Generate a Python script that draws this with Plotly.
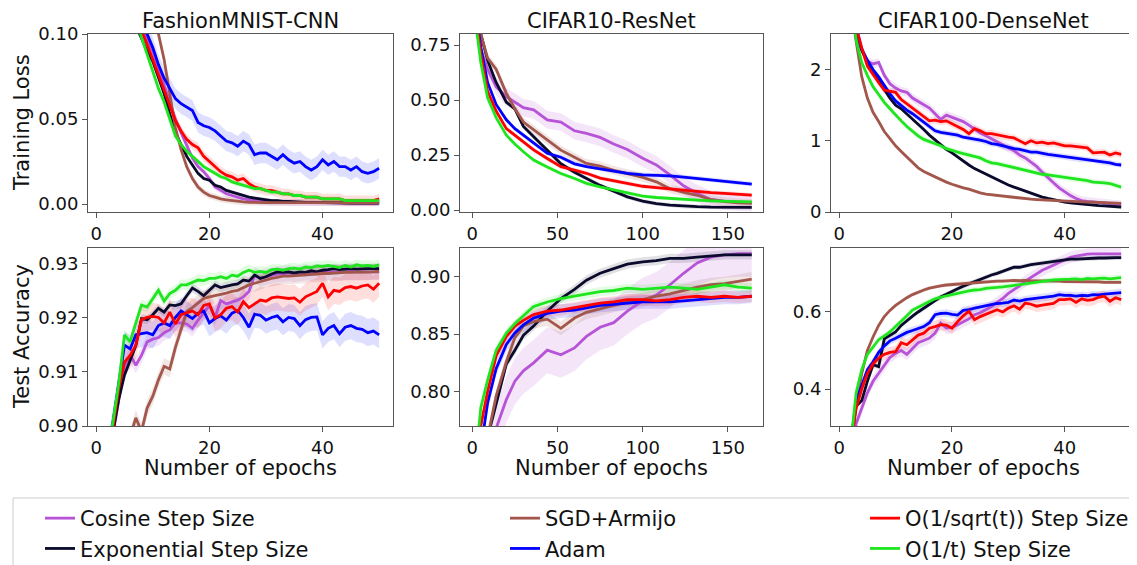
import plotly.graph_objects as go

# ---- series names / colours ----
names = ['Cosine Step Size', 'Exponential Step Size', 'SGD+Armijo', 'Adam',
         'O(1/sqrt(t)) Step Size', 'O(1/t) Step Size']
colors = ['#b653d6', '#0a0a2c', '#a3574c', '#0000ff', '#ff0000', '#1ee61e']
band_colors = ['rgba(182,83,214,0.15)', 'rgba(10,10,44,0.12)', 'rgba(163,87,76,0.15)',
               'rgba(0,0,255,0.13)', 'rgba(255,0,0,0.13)', 'rgba(30,230,30,0.13)']

titles = ['FashionMNIST-CNN', 'CIFAR10-ResNet', 'CIFAR100-DenseNet']

epochs50 = list(range(1, 51))
epochs_c10 = [2, 5, 9, 14, 20, 25, 30, 36, 44, 52, 60, 67, 75, 83, 91, 100, 108, 116, 124, 132, 140, 148, 156, 164]

# ---- FashionMNIST training loss ----
fm_loss_cos = [0.45, 0.32, 0.25, 0.19, 0.16, 0.135, 0.118, 0.105, 0.098, 0.090, 0.080, 0.070, 0.060, 0.050, 0.042,
               0.034, 0.027, 0.022, 0.019, 0.015, 0.010, 0.008, 0.006, 0.005, 0.004, 0.003, 0.0025, 0.002, 0.0015, 0.0012,
               0.001, 0.001, 0.001, 0.001, 0.001, 0.0008, 0.0008, 0.0008, 0.0008, 0.0008, 0.0006, 0.0006, 0.0006, 0.0006,
               0.0006, 0.0006, 0.0006, 0.0006, 0.0006, 0.0006]
fm_loss_exp = [0.40, 0.29, 0.22, 0.17, 0.14, 0.12, 0.105, 0.097, 0.090, 0.084, 0.075, 0.065, 0.053, 0.042, 0.035,
               0.028, 0.023, 0.018, 0.015, 0.014, 0.011, 0.010, 0.008, 0.007, 0.006, 0.005, 0.004, 0.0035, 0.003, 0.0025,
               0.002, 0.002, 0.0015, 0.0015, 0.0012, 0.0012, 0.001, 0.001, 0.001, 0.0008, 0.0008, 0.0007, 0.0007, 0.0006,
               0.0006, 0.0005, 0.0005, 0.0005, 0.0005, 0.0005]
fm_loss_arm = [0.8, 0.6, 0.45, 0.35, 0.28, 0.22, 0.18, 0.15, 0.13, 0.115, 0.102, 0.085, 0.065, 0.045, 0.032,
               0.022, 0.015, 0.010, 0.007, 0.005, 0.004, 0.003, 0.0025, 0.002, 0.0015, 0.0012, 0.001, 0.0008, 0.0008, 0.0008,
               0.0008, 0.0008, 0.0008, 0.0008, 0.0008, 0.0008, 0.0008, 0.0008, 0.0008, 0.0008, 0.0008, 0.0008, 0.0008,
               0.0008, 0.0008, 0.0008, 0.0008, 0.0008, 0.0008, 0.0008]
fm_loss_adam = [0.40, 0.30, 0.24, 0.19, 0.16, 0.14, 0.12, 0.105, 0.100, 0.092, 0.082, 0.074, 0.068, 0.062, 0.059,
                0.057, 0.055, 0.048, 0.046, 0.045, 0.043, 0.040, 0.037, 0.036, 0.034, 0.037, 0.035, 0.029, 0.030, 0.030,
                0.028, 0.026, 0.029, 0.026, 0.024, 0.025, 0.022, 0.020, 0.022, 0.026, 0.023, 0.025, 0.022, 0.022, 0.020,
                0.022, 0.019, 0.018, 0.019, 0.021]
fm_loss_sqrt = [0.45, 0.33, 0.25, 0.20, 0.16, 0.13, 0.115, 0.102, 0.094, 0.085, 0.075, 0.066, 0.058, 0.049, 0.043,
                0.038, 0.035, 0.033, 0.028, 0.025, 0.022, 0.019, 0.017, 0.016, 0.014, 0.015, 0.012, 0.010, 0.009, 0.008,
                0.008, 0.007, 0.006, 0.006, 0.005, 0.005, 0.004, 0.004, 0.004, 0.003, 0.003, 0.003, 0.003, 0.002, 0.002,
                0.002, 0.002, 0.002, 0.002, 0.003]
fm_loss_inv = [0.42, 0.30, 0.23, 0.18, 0.15, 0.125, 0.11, 0.098, 0.088, 0.078, 0.068, 0.060, 0.050, 0.040, 0.035,
               0.031, 0.028, 0.025, 0.022, 0.020, 0.018, 0.016, 0.015, 0.013, 0.012, 0.011, 0.010, 0.009, 0.009, 0.008,
               0.007, 0.007, 0.006, 0.006, 0.005, 0.005, 0.004, 0.004, 0.004, 0.003, 0.003, 0.003, 0.003, 0.002, 0.002,
               0.002, 0.002, 0.002, 0.002, 0.002]

# ---- CIFAR10 training loss ----
c10_loss_cos = [0.93, 0.73, 0.64, 0.56, 0.515, 0.49, 0.465, 0.455, 0.41, 0.40, 0.36, 0.348, 0.33, 0.30, 0.275, 0.235,
                0.205, 0.16, 0.11, 0.075, 0.048, 0.04, 0.035, 0.033]
c10_loss_exp = [0.95, 0.80, 0.68, 0.58, 0.49, 0.46, 0.38, 0.333, 0.272, 0.21, 0.172, 0.144, 0.112, 0.086, 0.06, 0.04,
                0.029, 0.022, 0.017, 0.015, 0.013, 0.012, 0.012, 0.012]
c10_loss_arm = [0.95, 0.80, 0.69, 0.64, 0.53, 0.46, 0.40, 0.364, 0.317, 0.272, 0.24, 0.212, 0.20, 0.18, 0.165, 0.148,
                0.128, 0.097, 0.08, 0.067, 0.047, 0.038, 0.033, 0.03]
c10_loss_adam = [0.90, 0.74, 0.58, 0.48, 0.41, 0.37, 0.34, 0.303, 0.258, 0.24, 0.21, 0.197, 0.186, 0.178, 0.167, 0.16,
                 0.158, 0.155, 0.15, 0.144, 0.138, 0.13, 0.125, 0.118]
c10_loss_sqrt = [0.88, 0.71, 0.54, 0.45, 0.37, 0.34, 0.31, 0.273, 0.234, 0.197, 0.181, 0.167, 0.145, 0.133, 0.121, 0.108,
                 0.102, 0.096, 0.088, 0.083, 0.079, 0.076, 0.072, 0.068]
c10_loss_inv = [0.85, 0.67, 0.51, 0.42, 0.34, 0.30, 0.265, 0.227, 0.196, 0.166, 0.143, 0.121, 0.105, 0.092, 0.076, 0.063,
                0.057, 0.052, 0.048, 0.045, 0.042, 0.039, 0.038, 0.037]

# ---- CIFAR100 training loss ----
c100_loss_cos = [4.2, 3.3, 2.62, 2.3, 2.12, 2.08, 2.1, 1.92, 1.8, 1.74, 1.7, 1.68, 1.6, 1.55, 1.5, 1.46, 1.38, 1.3, 1.36,
                 1.33, 1.3, 1.27, 1.22, 1.16, 1.11, 1.07, 1.03, 0.99, 0.94, 0.9, 0.86, 0.8, 0.76, 0.7, 0.64, 0.56, 0.48,
                 0.41, 0.34, 0.28, 0.23, 0.19, 0.16, 0.15, 0.14, 0.13, 0.12, 0.12, 0.11, 0.11]
c100_loss_exp = [4.0, 3.2, 2.45, 2.27, 2.12, 1.95, 1.88, 1.72, 1.6, 1.5, 1.45, 1.38, 1.3, 1.24, 1.16, 1.08, 1.01, 0.94,
                 0.88, 0.83, 0.77, 0.71, 0.66, 0.61, 0.57, 0.53, 0.49, 0.45, 0.42, 0.38, 0.35, 0.32, 0.29, 0.26, 0.24,
                 0.21, 0.19, 0.17, 0.15, 0.14, 0.13, 0.12, 0.11, 0.10, 0.095, 0.09, 0.085, 0.08, 0.075, 0.07]
c100_loss_arm = [3.9, 3.0, 2.4, 1.9, 1.6, 1.4, 1.27, 1.13, 1.03, 0.93, 0.85, 0.77, 0.69, 0.62, 0.57, 0.53, 0.49, 0.45,
                 0.42, 0.39, 0.36, 0.34, 0.32, 0.29, 0.27, 0.25, 0.24, 0.23, 0.22, 0.21, 0.20, 0.195, 0.19, 0.18, 0.175,
                 0.17, 0.165, 0.16, 0.16, 0.155, 0.15, 0.15, 0.145, 0.14, 0.14, 0.135, 0.13, 0.13, 0.125, 0.12]
c100_loss_adam = [4.1, 3.2, 2.55, 2.28, 2.13, 2.0, 1.9, 1.78, 1.66, 1.56, 1.49, 1.43, 1.38, 1.32, 1.26, 1.2, 1.14, 1.12,
                  1.11, 1.1, 1.08, 1.05, 1.04, 1.02, 1.01, 0.99, 0.96, 0.95, 0.93, 0.9, 0.89, 0.88, 0.86, 0.84, 0.84,
                  0.82, 0.81, 0.80, 0.79, 0.77, 0.76, 0.75, 0.74, 0.73, 0.73, 0.71, 0.70, 0.69, 0.67, 0.66]
c100_loss_sqrt = [4.3, 3.3, 2.6, 2.3, 2.05, 1.93, 1.82, 1.71, 1.7, 1.68, 1.58, 1.52, 1.45, 1.4, 1.33, 1.28, 1.29, 1.27,
                  1.28, 1.24, 1.2, 1.16, 1.1, 1.17, 1.14, 1.1, 1.1, 1.08, 1.06, 1.05, 1.04, 1.0, 0.96, 1.0, 0.97, 0.98,
                  0.96, 0.97, 0.95, 0.93, 0.93, 0.92, 0.92, 0.9, 0.83, 0.84, 0.84, 0.8, 0.83, 0.81]
c100_loss_inv = [4.0, 3.0, 2.42, 2.1, 1.92, 1.76, 1.65, 1.54, 1.45, 1.36, 1.28, 1.2, 1.13, 1.07, 1.02, 0.99, 0.97, 0.93,
                 0.89, 0.86, 0.84, 0.82, 0.80, 0.79, 0.76, 0.72, 0.69, 0.68, 0.66, 0.64, 0.62, 0.61, 0.59, 0.57, 0.55,
                 0.53, 0.52, 0.51, 0.50, 0.48, 0.47, 0.46, 0.45, 0.44, 0.42, 0.42, 0.41, 0.40, 0.38, 0.35]

# ---- FashionMNIST test accuracy ----
fm_acc_cos = [0.884, 0.893, 0.899, 0.905, 0.911, 0.9131, 0.9112, 0.913, 0.9155, 0.916, 0.9163, 0.9172, 0.9177, 0.919,
              0.919, 0.9188, 0.918, 0.9195, 0.9209, 0.9222, 0.92, 0.9231, 0.9225, 0.9228, 0.9232, 0.9238, 0.9248, 0.9278,
              0.9272, 0.9275, 0.9278, 0.928, 0.928, 0.9282, 0.928, 0.9282, 0.9283, 0.9282, 0.9284, 0.9283, 0.9284,
              0.9284, 0.9283, 0.9284, 0.9285, 0.9284, 0.9284, 0.9284, 0.9285, 0.9284]
fm_acc_exp = [0.882, 0.893, 0.899, 0.905, 0.9094, 0.912, 0.9148, 0.9198, 0.9196, 0.9205, 0.9217, 0.921, 0.9223, 0.9222,
              0.9225, 0.924, 0.9254, 0.9248, 0.924, 0.925, 0.926, 0.9255, 0.9258, 0.926, 0.9262, 0.9269, 0.9267, 0.9278,
              0.9272, 0.9275, 0.928, 0.9284, 0.9283, 0.9284, 0.9282, 0.9284, 0.9283, 0.9286, 0.9284, 0.9287, 0.9288,
              0.929, 0.9288, 0.9289, 0.929, 0.9289, 0.929, 0.929, 0.929, 0.929]
fm_acc_arm = [0.85, 0.87, 0.88, 0.888, 0.894, 0.898, 0.9015, 0.899, 0.9033, 0.9055, 0.9085, 0.911, 0.9105, 0.9145,
              0.918, 0.9211, 0.9218, 0.9226, 0.9235, 0.9238, 0.924, 0.9243, 0.9245, 0.9248, 0.925, 0.9255, 0.926, 0.9263,
              0.9266, 0.927, 0.9272, 0.9274, 0.9276, 0.9276, 0.9277, 0.9278, 0.9278, 0.928, 0.928, 0.9281, 0.9281,
              0.9282, 0.9282, 0.9283, 0.9283, 0.9283, 0.9284, 0.9284, 0.9284, 0.9285]
fm_acc_adam = [0.886, 0.895, 0.901, 0.908, 0.9149, 0.9142, 0.9168, 0.917, 0.9172, 0.9168, 0.9185, 0.919, 0.9185, 0.92,
               0.9212, 0.9205, 0.9198, 0.9208, 0.9212, 0.919, 0.9198, 0.9203, 0.9195, 0.9208, 0.9213, 0.92, 0.9182,
               0.9206, 0.9204, 0.9195, 0.92, 0.9203, 0.9192, 0.92, 0.9198, 0.9185, 0.9196, 0.92, 0.9201, 0.9168, 0.918,
               0.9185, 0.917, 0.9182, 0.9185, 0.918, 0.9178, 0.9172, 0.9175, 0.9168]
fm_acc_sqrt = [0.885, 0.894, 0.900, 0.907, 0.9118, 0.913, 0.9149, 0.9196, 0.92, 0.9202, 0.92, 0.919, 0.921, 0.9188,
               0.9205, 0.9208, 0.9212, 0.9205, 0.9222, 0.9225, 0.9199, 0.9205, 0.9217, 0.922, 0.921, 0.9229, 0.9218,
               0.9225, 0.9232, 0.923, 0.9236, 0.9238, 0.9237, 0.9235, 0.9236, 0.9228, 0.9238, 0.9243, 0.9248, 0.9263,
               0.9238, 0.925, 0.9248, 0.9255, 0.9257, 0.9254, 0.9258, 0.926, 0.9252, 0.9263]
fm_acc_inv = [0.885, 0.895, 0.901, 0.908, 0.9168, 0.9155, 0.919, 0.9223, 0.9219, 0.9235, 0.925, 0.923, 0.9244, 0.925,
              0.926, 0.926, 0.9265, 0.9269, 0.9268, 0.9272, 0.9272, 0.9275, 0.9272, 0.9278, 0.9276, 0.9283, 0.9287,
              0.9283, 0.9285, 0.9283, 0.9288, 0.9289, 0.9287, 0.929, 0.9291, 0.9289, 0.9293, 0.9292, 0.9295, 0.9294,
              0.9296, 0.9294, 0.9292, 0.9296, 0.9293, 0.9297, 0.9295, 0.9296, 0.9294, 0.9297]

# ---- CIFAR10 test accuracy ----
c10_acc_cos = [0.64, 0.69, 0.73, 0.768, 0.793, 0.809, 0.818, 0.825, 0.836, 0.832, 0.838, 0.848, 0.856, 0.86, 0.87, 0.879,
               0.884, 0.893, 0.903, 0.912, 0.917, 0.919, 0.92, 0.92]
c10_acc_exp = [0.66, 0.71, 0.76, 0.789, 0.824, 0.836, 0.849, 0.857, 0.87, 0.881, 0.889, 0.897, 0.903, 0.907, 0.911,
               0.913, 0.914, 0.916, 0.916, 0.917, 0.918, 0.919, 0.919, 0.919]
c10_acc_arm = [0.66, 0.71, 0.76, 0.796, 0.826, 0.847, 0.857, 0.861, 0.863, 0.855, 0.864, 0.869, 0.872, 0.875, 0.878,
               0.88, 0.883, 0.885, 0.888, 0.891, 0.893, 0.894, 0.896, 0.898]
c10_acc_adam = [0.70, 0.75, 0.79, 0.82, 0.841, 0.851, 0.858, 0.864, 0.868, 0.87, 0.871, 0.873, 0.875, 0.876, 0.877,
                0.878, 0.878, 0.878, 0.879, 0.88, 0.881, 0.882, 0.882, 0.883]
c10_acc_sqrt = [0.72, 0.77, 0.80, 0.831, 0.848, 0.857, 0.862, 0.867, 0.87, 0.871, 0.873, 0.875, 0.877, 0.878, 0.88,
                0.88, 0.879, 0.88, 0.882, 0.883, 0.882, 0.883, 0.882, 0.883]
c10_acc_inv = [0.74, 0.786, 0.81, 0.836, 0.851, 0.859, 0.866, 0.874, 0.878, 0.881, 0.883, 0.885, 0.887, 0.888, 0.89,
               0.889, 0.89, 0.891, 0.89, 0.889, 0.891, 0.893, 0.891, 0.89]

# ---- CIFAR100 test accuracy ----
c100_acc_cos = [0.12, 0.2, 0.31, 0.35, 0.39, 0.42, 0.44, 0.46, 0.482, 0.493, 0.5, 0.49, 0.505, 0.52, 0.526, 0.532, 0.545,
                0.571, 0.558, 0.56, 0.567, 0.575, 0.582, 0.593, 0.598, 0.606, 0.614, 0.625, 0.635, 0.648, 0.657, 0.668,
                0.68, 0.69, 0.698, 0.708, 0.715, 0.722, 0.73, 0.736, 0.742, 0.745, 0.748, 0.75, 0.751, 0.751, 0.751,
                0.751, 0.751, 0.751]
c100_acc_exp = [0.15, 0.25, 0.355, 0.37, 0.42, 0.463, 0.458, 0.53, 0.54, 0.548, 0.565, 0.578, 0.589, 0.6, 0.61, 0.62,
                0.63, 0.639, 0.646, 0.654, 0.66, 0.667, 0.673, 0.679, 0.684, 0.69, 0.696, 0.7, 0.705, 0.711, 0.716,
                0.716, 0.72, 0.723, 0.725, 0.727, 0.729, 0.731, 0.733, 0.735, 0.737, 0.737, 0.738, 0.739, 0.739, 0.74,
                0.74, 0.741, 0.741, 0.741]
c100_acc_arm = [0.15, 0.25, 0.36, 0.44, 0.50, 0.535, 0.565, 0.588, 0.604, 0.617, 0.628, 0.637, 0.645, 0.652, 0.657,
                0.662, 0.666, 0.668, 0.67, 0.671, 0.673, 0.674, 0.676, 0.677, 0.678, 0.678, 0.679, 0.68, 0.68, 0.681,
                0.682, 0.681, 0.682, 0.681, 0.681, 0.68, 0.68, 0.68, 0.68, 0.679, 0.679, 0.679, 0.678, 0.678, 0.678,
                0.678, 0.677, 0.677, 0.677, 0.677]
c100_acc_adam = [0.14, 0.25, 0.37, 0.41, 0.45, 0.47, 0.495, 0.512, 0.525, 0.532, 0.54, 0.547, 0.552, 0.556, 0.562,
                 0.572, 0.593, 0.596, 0.597, 0.594, 0.592, 0.604, 0.606, 0.61, 0.613, 0.615, 0.618, 0.622, 0.623, 0.625,
                 0.631, 0.628, 0.632, 0.634, 0.636, 0.637, 0.639, 0.641, 0.645, 0.643, 0.643, 0.641, 0.643, 0.642,
                 0.645, 0.644, 0.646, 0.647, 0.648, 0.65]
c100_acc_sqrt = [0.14, 0.24, 0.35, 0.40, 0.44, 0.465, 0.48, 0.49, 0.495, 0.497, 0.52, 0.515, 0.528, 0.54, 0.545, 0.558,
                 0.562, 0.567, 0.566, 0.558, 0.575, 0.59, 0.602, 0.58, 0.588, 0.593, 0.6, 0.606, 0.6, 0.61, 0.616,
                 0.607, 0.623, 0.62, 0.615, 0.618, 0.62, 0.622, 0.632, 0.632, 0.634, 0.625, 0.634, 0.63, 0.632, 0.638,
                 0.641, 0.628, 0.637, 0.632]
c100_acc_inv = [0.15, 0.25, 0.39, 0.45, 0.49, 0.51, 0.528, 0.538, 0.548, 0.562, 0.575, 0.59, 0.605, 0.613, 0.62, 0.627,
                0.634, 0.639, 0.642, 0.645, 0.649, 0.652, 0.655, 0.657, 0.658, 0.661, 0.663, 0.664, 0.665, 0.667, 0.669,
                0.671, 0.673, 0.675, 0.678, 0.68, 0.681, 0.683, 0.684, 0.684, 0.685, 0.686, 0.684, 0.687, 0.686, 0.687,
                0.688, 0.686, 0.688, 0.689]

# ---- std-dev half widths of the shaded bands (cos, exp, armijo, adam, sqrt, 1/t) ----
fm_loss_spread = [0.002, 0.001, 0.002, 0.006, 0.003, 0.0015]
c10_loss_spread = [0.04, 0.01, 0.02, 0.01, 0.01, 0.008]
c100_loss_spread = [0.06, 0.02, 0.02, 0.04, 0.05, 0.04]
fm_acc_spread = [0.0015, 0.0008, 0.0015, 0.0025, 0.0025, 0.001]
c10_acc_spread = [0.02, 0.004, 0.006, 0.006, 0.005, 0.004]
c100_acc_spread = [0.015, 0.006, 0.005, 0.01, 0.015, 0.008]

# panel: (x, series, spread, y range, y ticks, tick format, x range, x ticks)
panels = [
    (epochs50, [fm_loss_cos, fm_loss_exp, fm_loss_arm, fm_loss_adam, fm_loss_sqrt, fm_loss_inv], fm_loss_spread,
     [-0.0047, 0.1], [0, 0.05, 0.1], '.2f', [-1.45, 52.45], [0, 20, 40]),
    (epochs_c10, [c10_loss_cos, c10_loss_exp, c10_loss_arm, c10_loss_adam, c10_loss_sqrt, c10_loss_inv], c10_loss_spread,
     [-0.009, 0.80], [0, 0.25, 0.5, 0.75], '.2f', [-7.2, 170.6], [0, 50, 100, 150]),
    (epochs50, [c100_loss_cos, c100_loss_exp, c100_loss_arm, c100_loss_adam, c100_loss_sqrt, c100_loss_inv], c100_loss_spread,
     [0, 2.5], [0, 1, 2], 'd', [-1.45, 52.45], [0, 20, 40]),
    (epochs50, [fm_acc_cos, fm_acc_exp, fm_acc_arm, fm_acc_adam, fm_acc_sqrt, fm_acc_inv], fm_acc_spread,
     [0.90, 0.9328], [0.90, 0.91, 0.92, 0.93], '.2f', [-1.45, 52.45], [0, 20, 40]),
    (epochs_c10, [c10_acc_cos, c10_acc_exp, c10_acc_arm, c10_acc_adam, c10_acc_sqrt, c10_acc_inv], c10_acc_spread,
     [0.770, 0.925], [0.80, 0.85, 0.90], '.2f', [-7.2, 170.6], [0, 50, 100, 150]),
    (epochs50, [c100_acc_cos, c100_acc_exp, c100_acc_arm, c100_acc_adam, c100_acc_sqrt, c100_acc_inv], c100_acc_spread,
     [0.304, 0.766], [0.4, 0.6], '.1f', [-1.45, 52.45], [0, 20, 40]),
]

W, H = 1137, 565
PAGE_OFFSET = 8  # the page body adds an 8px margin around the figure

def fx(p):
    return (p - PAGE_OFFSET) / W
def fy(p):
    return 1 - (p - PAGE_OFFSET) / H

col_px = [(88, 393), (460, 763), (831, 1135)]
row_px = [(34, 212), (248, 426)]
legend_of = ['legend', 'legend', 'legend2', 'legend2', 'legend3', 'legend3']
draw_order = [0, 1, 2, 3, 4, 5]

fig = go.Figure()
layout = {}
for k, (xs, series, spread, yr, yt, yfmt, xr, xt) in enumerate(panels):
    r, c = divmod(k, 3)
    suffix = '' if k == 0 else str(k + 1)
    xa, ya = 'x' + suffix, 'y' + suffix
    for i in draw_order:
        ys = series[i]
        upper = [v + spread[i] for v in ys]
        lower = [v - spread[i] for v in ys]
        fig.add_trace(go.Scatter(x=xs + xs[::-1], y=upper + lower[::-1], fill='toself',
                                 fillcolor=band_colors[i], line=dict(width=0), mode='lines',
                                 hoverinfo='skip', showlegend=False, xaxis=xa, yaxis=ya))
    for i in draw_order:
        fig.add_trace(go.Scatter(x=xs, y=series[i], mode='lines', name=names[i],
                                 line=dict(color=colors[i], width=2.8),
                                 showlegend=(k == 0), legend=legend_of[i], xaxis=xa, yaxis=ya))
    axis_common = dict(showgrid=False, zeroline=False, showline=True, mirror=True, automargin=False,
                       linecolor='#555555', linewidth=1, ticks='outside', ticklen=5,
                       tickcolor='#555555', tickfont=dict(size=18, color='#111111'))
    layout['xaxis' + suffix] = dict(domain=[fx(col_px[c][0]), fx(col_px[c][1])], anchor=ya,
                                    range=xr, tickvals=xt, **axis_common)
    tickfmt = None if yfmt == 'd' else yfmt
    layout['yaxis' + suffix] = dict(domain=[fy(row_px[r][1]), fy(row_px[r][0])], anchor=xa,
                                    range=yr, tickvals=yt, tickformat=tickfmt, **axis_common)

annotations = []
for c in range(3):
    annotations.append(dict(text=titles[c], x=fx((col_px[c][0] + col_px[c][1]) / 2), y=fy(21),
                            xref='paper', yref='paper', showarrow=False, font=dict(size=21, color='#111111'),
                            xanchor='center', yanchor='middle'))
    annotations.append(dict(text='Number of epochs', x=fx((col_px[c][0] + col_px[c][1]) / 2), y=fy(468),
                            xref='paper', yref='paper', showarrow=False, font=dict(size=21, color='#111111'),
                            xanchor='center', yanchor='middle'))
annotations.append(dict(text='Training Loss', x=fx(22), y=fy(123), xref='paper', yref='paper', showarrow=False,
                        textangle=-90, font=dict(size=21, color='#111111'), xanchor='center', yanchor='middle'))
annotations.append(dict(text='Test Accuracy', x=fx(22), y=fy(337), xref='paper', yref='paper', showarrow=False,
                        textangle=-90, font=dict(size=21, color='#111111'), xanchor='center', yanchor='middle'))

legend_style = dict(font=dict(size=21, color='#111111'), bgcolor='rgba(0,0,0,0)', yanchor='top',
                    xanchor='left', tracegroupgap=0, itemwidth=30, orientation='v')

fig.update_layout(
    width=W, height=H, margin=dict(l=0, r=0, t=0, b=0),
    paper_bgcolor='white', plot_bgcolor='white',
    font=dict(family='DejaVu Sans', color='#111111'),
    annotations=annotations,
    shapes=[dict(type='rect', xref='paper', yref='paper', x0=fx(13), x1=fx(1150), y0=fy(580), y1=fy(498),
                 line=dict(color='#cccccc', width=1), fillcolor='rgba(0,0,0,0)')],
    legend=dict(x=fx(40), y=fy(498), **legend_style),
    legend2=dict(x=fx(505), y=fy(498), **legend_style),
    legend3=dict(x=fx(865), y=fy(498), **legend_style),
    **layout,
)

fig.write_html("out.html")
